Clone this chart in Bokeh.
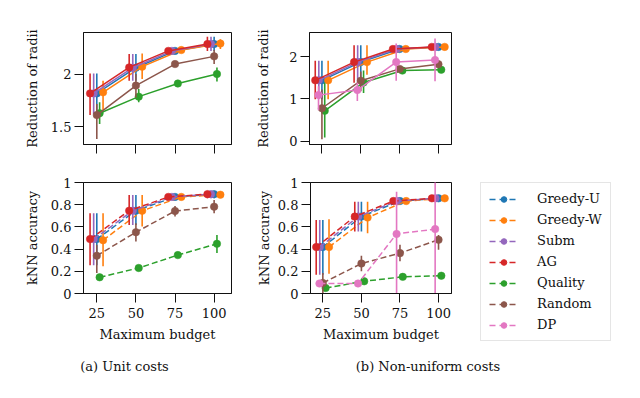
from bokeh.plotting import figure
from bokeh.layouts import column, row
from bokeh.models import Range1d, FixedTicker, CustomJSTickFormatter, Legend, LegendItem, Label
from bokeh.embed import file_html
from bokeh.resources import INLINE

# ---------------- data ----------------
BUDGETS = [25, 50, 75, 100]
METHODS = ["Greedy-U", "Greedy-W", "Subm", "AG", "Quality", "Random", "DP"]
UNIT_METHODS = ["Greedy-U", "Greedy-W", "Subm", "AG", "Quality", "Random"]

# (a) Unit costs - Reduction of radii
RADII_UNIT_MEAN = {
    "Greedy-U": [1.816, 2.060, 2.220, 2.285],
    "Greedy-W": [1.826, 2.070, 2.228, 2.290],
    "Subm":     [1.816, 2.060, 2.220, 2.285],
    "AG":       [1.816, 2.063, 2.220, 2.285],
    "Quality":  [1.627, 1.785, 1.910, 2.000],
    "Random":   [1.610, 1.890, 2.095, 2.168],
}
RADII_UNIT_LO = {
    "Greedy-U": [1.63, 1.937, 2.200, 2.220],
    "Greedy-W": [1.658, 1.953, 2.210, 2.237],
    "Subm":     [1.62, 1.937, 2.200, 2.220],
    "AG":       [1.61, 1.937, 2.200, 2.220],
    "Quality":  [1.525, 1.731, 1.895, 1.930],
    "Random":   [1.383, 1.778, 2.080, 2.095],
}
RADII_UNIT_HI = {
    "Greedy-U": [2.006, 2.190, 2.240, 2.354],
    "Greedy-W": [1.937, 2.196, 2.245, 2.332],
    "Subm":     [2.006, 2.190, 2.240, 2.354],
    "AG":       [2.006, 2.190, 2.240, 2.354],
    "Quality":  [1.731, 1.858, 1.925, 2.063],
    "Random":   [1.715, 2.000, 2.110, 2.228],
}

# (b) Non-uniform costs - Reduction of radii
RADII_NONUNI_MEAN = {
    "Greedy-U": [1.44, 1.87, 2.18, 2.23],
    "Greedy-W": [1.44, 1.87, 2.18, 2.23],
    "Subm":     [1.44, 1.87, 2.18, 2.23],
    "AG":       [1.44, 1.87, 2.18, 2.23],
    "Quality":  [0.72, 1.39, 1.67, 1.69],
    "Random":   [0.78, 1.43, 1.71, 1.82],
    "DP":       [1.09, 1.21, 1.87, 1.92],
}
RADII_NONUNI_LO = {
    "Greedy-U": [0.99, 1.38, 2.15, 2.19],
    "Greedy-W": [0.99, 1.57, 2.15, 2.20],
    "Subm":     [0.99, 1.38, 2.15, 2.19],
    "AG":       [0.99, 1.38, 2.15, 2.19],
    "Quality":  [0.09, 1.14, 1.63, 1.65],
    "Random":   [0.05, 1.18, 1.66, 1.73],
    "DP":       [0.73, 0.95, 1.43, 1.42],
}
RADII_NONUNI_HI = {
    "Greedy-U": [1.90, 2.27, 2.21, 2.27],
    "Greedy-W": [1.90, 2.27, 2.21, 2.26],
    "Subm":     [1.90, 2.27, 2.21, 2.27],
    "AG":       [1.90, 2.27, 2.21, 2.27],
    "Quality":  [1.38, 1.67, 1.71, 1.73],
    "Random":   [1.22, 1.65, 1.76, 1.92],
    "DP":       [1.30, 1.38, 2.31, 2.43],
}

# (a) Unit costs - kNN accuracy
KNN_UNIT_MEAN = {
    "Greedy-U": [0.490, 0.746, 0.870, 0.895],
    "Greedy-W": [0.480, 0.745, 0.870, 0.890],
    "Subm":     [0.490, 0.746, 0.870, 0.895],
    "AG":       [0.490, 0.746, 0.870, 0.895],
    "Quality":  [0.146, 0.230, 0.346, 0.448],
    "Random":   [0.340, 0.552, 0.743, 0.782],
}
KNN_UNIT_LO = {
    "Greedy-U": [0.254, 0.618, 0.850, 0.857],
    "Greedy-W": [0.245, 0.603, 0.850, 0.870],
    "Subm":     [0.254, 0.618, 0.850, 0.857],
    "AG":       [0.254, 0.618, 0.850, 0.857],
    "Quality":  [0.131, 0.210, 0.326, 0.364],
    "Random":   [0.185, 0.469, 0.693, 0.722],
}
KNN_UNIT_HI = {
    "Greedy-U": [0.722, 0.887, 0.890, 0.925],
    "Greedy-W": [0.722, 0.887, 0.890, 0.910],
    "Subm":     [0.722, 0.887, 0.890, 0.925],
    "AG":       [0.722, 0.887, 0.890, 0.925],
    "Quality":  [0.161, 0.250, 0.366, 0.528],
    "Random":   [0.439, 0.633, 0.788, 0.842],
}

# (b) Non-uniform costs - kNN accuracy
KNN_NONUNI_MEAN = {
    "Greedy-U": [0.418, 0.693, 0.833, 0.857],
    "Greedy-W": [0.418, 0.684, 0.833, 0.857],
    "Subm":     [0.418, 0.693, 0.833, 0.857],
    "AG":       [0.418, 0.693, 0.833, 0.857],
    "Quality":  [0.050, 0.110, 0.150, 0.160],
    "Random":   [0.095, 0.270, 0.364, 0.484],
    "DP":       [0.090, 0.090, 0.537, 0.580],
}
KNN_NONUNI_LO = {
    "Greedy-U": [0.170, 0.558, 0.813, 0.832],
    "Greedy-W": [0.179, 0.543, 0.813, 0.832],
    "Subm":     [0.170, 0.558, 0.813, 0.832],
    "AG":       [0.170, 0.558, 0.813, 0.832],
    "Quality":  [0.035, 0.095, 0.135, 0.145],
    "Random":   [0.000, 0.200, 0.290, 0.394],
    "DP":       [0.080, 0.080, 0.000, 0.000],
}
KNN_NONUNI_HI = {
    "Greedy-U": [0.663, 0.827, 0.853, 0.882],
    "Greedy-W": [0.669, 0.827, 0.853, 0.882],
    "Subm":     [0.663, 0.827, 0.853, 0.882],
    "AG":       [0.663, 0.827, 0.853, 0.882],
    "Quality":  [0.065, 0.125, 0.165, 0.175],
    "Random":   [0.185, 0.340, 0.439, 0.528],
    "DP":       [0.100, 0.100, 0.916, 1.050],
}

X_TICKS = [25, 50, 75, 100]
RADII_UNIT_TICKS = [1.5, 2]
RADII_NONUNI_TICKS = [0, 1, 2]
KNN_TICKS = [0, 0.2, 0.4, 0.6, 0.8, 1]

# ---------------- styles ----------------
COLORS = {
    "Greedy-U": "#1f77b4", "Greedy-W": "#ff7f0e", "Subm": "#9467bd", "AG": "#d62728",
    "Quality": "#2ca02c", "Random": "#8c564b", "DP": "#e377c2",
}
DODGE = {"Greedy-U": 0.0, "Greedy-W": 4.0, "Subm": -2.0, "AG": -4.3,
         "Quality": 1.8, "Random": 0.0, "DP": -2.2}
FONT = "DejaVu Serif"
FS = "13px"
INK = "#111111"
DASH = "6 3"


def panel(mean, lo, hi, methods, xr, yr, yticks, ylabel, dashed, xlabels,
          width, height, bl, br, bt, bb, ystand):
    p = figure(width=width, height=height, x_range=Range1d(*xr), y_range=Range1d(*yr),
               toolbar_location=None, output_backend="svg",
               min_border_left=bl, min_border_right=br, min_border_top=bt, min_border_bottom=bb)
    p.grid.visible = False
    p.outline_line_color = INK
    p.outline_line_width = 1
    for ax in (p.xaxis[0], p.yaxis[0]):
        ax.axis_line_color = INK
        ax.major_tick_line_color = INK
        ax.major_tick_out = 9
        ax.major_tick_in = 0
        ax.minor_tick_line_color = None
        ax.major_label_standoff = 3
        ax.major_label_text_font = FONT
        ax.major_label_text_font_size = FS
        ax.major_label_text_color = INK
        ax.axis_label_text_font = FONT
        ax.axis_label_text_font_size = FS
        ax.axis_label_text_font_style = "normal"
        ax.axis_label_text_color = INK
    p.xaxis.ticker = FixedTicker(ticks=X_TICKS)
    p.yaxis.ticker = FixedTicker(ticks=yticks)
    p.yaxis.formatter = CustomJSTickFormatter(code="return String(tick);")
    p.yaxis.axis_label = ylabel
    p.yaxis.axis_label_standoff = ystand
    if xlabels:
        p.xaxis.formatter = CustomJSTickFormatter(code="return String(tick);")
        p.xaxis.major_label_standoff = 5
        p.xaxis.axis_label = "Maximum budget"
        p.xaxis.axis_label_standoff = 6
    else:
        p.xaxis.formatter = CustomJSTickFormatter(code="return '';")
        p.xaxis.major_label_standoff = 0

    for m in methods:
        c = COLORS[m]
        xs = [b + DODGE[m] for b in BUDGETS]
        p.segment(x0=xs, y0=lo[m], x1=xs, y1=hi[m], line_color=c, line_width=1.6)
        if dashed:
            p.line(xs, mean[m], line_color=c, line_width=1.5, line_dash=DASH)
        else:
            p.line(xs, mean[m], line_color=c, line_width=1.5)
        p.scatter(xs, mean[m], marker="circle", size=7.5, fill_color=c, line_color=c, line_width=0.5)
    return p


LX = (16.5, 111.1)
RX = (17.0, 108.4)

tl = panel(RADII_UNIT_MEAN, RADII_UNIT_LO, RADII_UNIT_HI, UNIT_METHODS, LX, (1.33, 2.395),
           RADII_UNIT_TICKS, "Reduction of radii", False, False, 253, 158, 83, 22, 32, 14, 8)
tr = panel(RADII_NONUNI_MEAN, RADII_NONUNI_LO, RADII_NONUNI_HI, METHODS, RX, (-0.077, 2.57),
           RADII_NONUNI_TICKS, "Reduction of radii", False, False, 218, 158, 53, 20, 32, 14, 15)
bl_ = panel(KNN_UNIT_MEAN, KNN_UNIT_LO, KNN_UNIT_HI, UNIT_METHODS, LX, (0, 1),
            KNN_TICKS, "kNN accuracy", True, True, 253, 186, 83, 22, 24, 50, 8)
br_ = panel(KNN_NONUNI_MEAN, KNN_NONUNI_LO, KNN_NONUNI_HI, METHODS, RX, (0, 1),
            KNN_TICKS, "kNN accuracy", True, True, 218, 186, 53, 20, 24, 50, 3)

# legend panel (its renderers hold the data but lie outside the visible ranges)
leg = figure(width=169, height=186, x_axis_type=None, y_axis_type=None,
             x_range=Range1d(0, 1), y_range=Range1d(0, 1), toolbar_location=None,
             output_backend="svg", min_border_left=9, min_border_top=24,
             min_border_right=0, min_border_bottom=0)
leg.frame_align = False
leg.outline_line_color = None
items = []
for m in METHODS:
    c = COLORS[m]
    r1 = leg.line(x=BUDGETS, y=KNN_NONUNI_MEAN[m], line_color=c, line_width=1.5, line_dash="6 4")
    r2 = leg.scatter(x=BUDGETS, y=KNN_NONUNI_MEAN[m], marker="circle", size=7.5,
                     fill_color=c, line_color=c)
    items.append(LegendItem(label=m, renderers=[r1, r2]))
legend = Legend(items=items, location="top_left", margin=0, padding=8, spacing=6,
                glyph_width=29, glyph_height=14, label_height=14, label_standoff=19,
                label_text_font=FONT, label_text_font_size=FS, label_text_color=INK,
                border_line_color="#cccccc", border_line_width=1,
                background_fill_color="white", background_fill_alpha=1)
leg.add_layout(legend, "center")

# captions
cap = figure(width=640, height=40, x_axis_type=None, y_axis_type=None,
             x_range=Range1d(0, 640), y_range=Range1d(0, 40), toolbar_location=None,
             output_backend="svg", min_border=0)
cap.frame_align = False
cap.outline_line_color = None
cap.add_layout(Label(x=124, y=18, x_units="screen", y_units="screen", text="(a) Unit costs",
                     text_align="center", text_baseline="middle", text_font=FONT,
                     text_font_size=FS, text_color=INK))
cap.add_layout(Label(x=427.5, y=18, x_units="screen", y_units="screen",
                     text="(b) Non-uniform costs", text_align="center", text_baseline="middle",
                     text_font=FONT, text_font_size=FS, text_color=INK))

layout = column(row(tl, tr), row(bl_, br_, leg), cap)

open("out.html", "w").write(file_html(layout, INLINE))
